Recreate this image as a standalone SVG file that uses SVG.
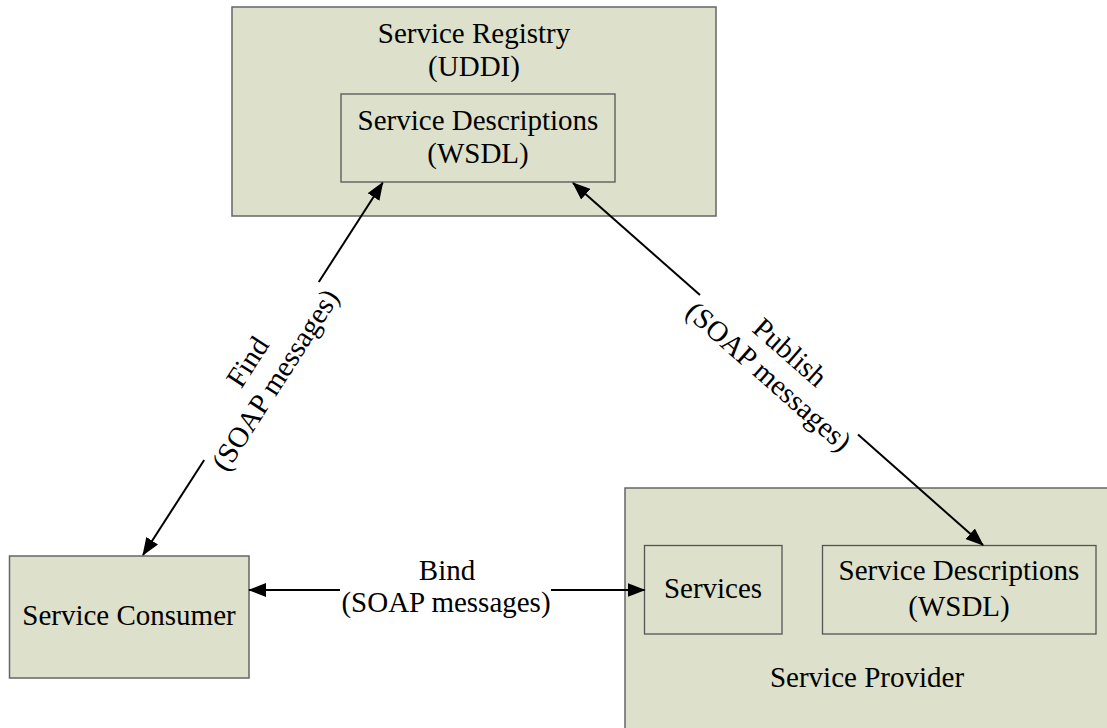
<svg xmlns="http://www.w3.org/2000/svg" width="1107" height="728" viewBox="0 0 1107 728">
<style>
.box{fill:#dde0ca;stroke:#666;stroke-width:1.5}
.inner{fill:#dde0ca;stroke:#555;stroke-width:1.3}
.t{font-family:"Liberation Serif","Times New Roman",serif;font-size:29px;fill:#000;text-anchor:middle}
.c{stroke:#000;stroke-width:2;fill:none;marker-end:url(#ah)}
</style>
<defs>
<marker id="ah" markerUnits="userSpaceOnUse" markerWidth="18" markerHeight="14" viewBox="0 0 18 14" refX="17" refY="7" orient="auto">
<path d="M0,0 L18,7 L0,14 z" fill="#000"/>
</marker>
</defs>
<rect x="0" y="0" width="1107" height="728" fill="#fff"/>
<g id="registry">
<rect class="box" x="232" y="7" width="484" height="209"/>
<text class="t" x="474" y="43">Service Registry</text>
<text class="t" x="474" y="76">(UDDI)</text>
</g>
<g id="registry-descriptions">
<rect class="inner" x="341" y="94" width="274" height="88"/>
<text class="t" x="478" y="130">Service Descriptions</text>
<text class="t" x="478" y="163">(WSDL)</text>
</g>
<g id="consumer">
<rect class="box" x="9.5" y="556" width="239.5" height="122"/>
<text class="t" x="129" y="625">Service Consumer</text>
</g>
<g id="provider">
<rect class="box" x="625" y="488" width="490" height="260"/>
<text class="t" x="867" y="687">Service Provider</text>
</g>
<g id="services">
<rect class="inner" x="644.5" y="545.5" width="137.5" height="88.5"/>
<text class="t" x="713" y="598">Services</text>
</g>
<g id="provider-descriptions">
<rect class="inner" x="822.5" y="545.5" width="273.5" height="88.5"/>
<text class="t" x="959" y="580">Service Descriptions</text>
<text class="t" x="959" y="616">(WSDL)</text>
</g>
<g id="connectors">
<line class="c" x1="318.8" y1="282" x2="382.7" y2="182.7"/>
<line class="c" x1="204.2" y1="460" x2="143" y2="555"/>
<line class="c" x1="700" y1="295.1" x2="573" y2="183"/>
<line class="c" x1="858" y1="434.6" x2="983" y2="545"/>
<line class="c" x1="340" y1="590" x2="249" y2="590"/>
<line class="c" x1="551" y1="590" x2="644.5" y2="590"/>
<g transform="translate(261.5,371) rotate(-57.2)">
<text class="t" x="0" y="-7">Find</text>
<text class="t" x="0" y="26">(SOAP messages)</text>
</g>
<g transform="translate(779,364.8) rotate(41.45)">
<text class="t" x="0" y="-7">Publish</text>
<text class="t" x="0" y="25">(SOAP messages)</text>
</g>
<text class="t" x="447" y="580">Bind</text>
<text class="t" x="446" y="612">(SOAP messages)</text>
</g>
</svg>
